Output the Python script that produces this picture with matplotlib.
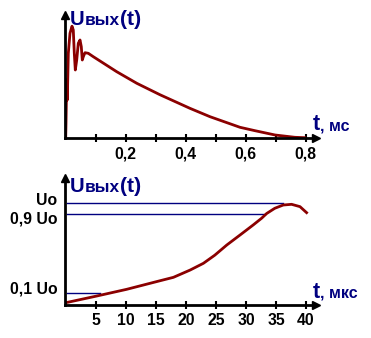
import matplotlib
matplotlib.use("Agg")
import matplotlib.pyplot as plt

# ---- data ----
t_top = [0, 0.001, 0.0033, 0.0053, 0.0087, 0.0143, 0.021, 0.0253, 0.0287, 0.032,
         0.0367, 0.042, 0.0477, 0.052, 0.0553, 0.0587, 0.0643, 0.0753, 0.092, 0.17,
         0.237, 0.314, 0.414, 0.481, 0.581, 0.631, 0.698, 0.764, 0.797]
u_top = [0, 0.144, 0.577, 0.377, 0.844, 1.044, 1.115, 1.077, 0.844, 0.677,
         0.777, 0.944, 0.977, 0.91, 0.777, 0.81, 0.85, 0.844, 0.81, 0.66,
         0.544, 0.43, 0.294, 0.21, 0.104, 0.07, 0.027, 0.004, 0.0]
top_ticks = [0.1, 0.2, 0.3, 0.4, 0.5, 0.6, 0.7, 0.8]
top_ticklabels = ["", "0,2", "", "0,4", "", "0,6", "", "0,8"]

t_bot = [0, 5.1, 10.1, 15.7, 17.9, 20.7, 22.9, 24.8, 26.8, 29.0, 31.2, 32.6,
         33.45, 34.8, 36.2, 37.6, 39.0, 40.1]
u_bot = [0.023, 0.088, 0.154, 0.239, 0.272, 0.344, 0.41, 0.49, 0.59, 0.688, 0.787,
         0.853, 0.90, 0.951, 0.983, 0.99, 0.967, 0.908]
bot_ticks = [5, 10, 15, 20, 25, 30, 35, 40]
bot_ticklabels = ["5", "10", "15", "20", "25", "30", "35", "40"]

levels = [1.0, 0.89, 0.115]
level_ends = [36.2, 33.2, 5.7]
level_labels = ["Uo", "0,9 Uo", "0,1 Uo"]
level_label_y = [1.03, 0.85, 0.16]

W, H = 371, 338
CURVE = "#8b0000"
NAVY = "#000080"
FONT = "Liberation Sans"

fig = plt.figure(figsize=(W / 100, H / 100), dpi=100)


def px_axes(left, right, top, bottom):
    return fig.add_axes([left / W, 1 - bottom / H, (right - left) / W, (bottom - top) / H])


def style(ax):
    for s in ("top", "right"):
        ax.spines[s].set_visible(False)
    for s in ("left", "bottom"):
        ax.spines[s].set_linewidth(2)
        ax.spines[s].set_color("black")
    ax.tick_params(axis="x", direction="inout", length=6, width=1.5, pad=3,
                   labelsize=11.3, colors="black")
    ax.tick_params(axis="y", left=False, labelleft=False)
    for lab in ax.get_xticklabels():
        lab.set_family(FONT)
        lab.set_fontweight("bold")
    ax.plot([0], [1], marker="^", ms=6, color="black", transform=ax.transAxes, clip_on=False)
    ax.plot([1], [0], marker=">", ms=6, color="black", transform=ax.transAxes, clip_on=False)
    ax.patch.set_alpha(0)


def ftext(x, y, s, **kw):
    fig.text(x / W, 1 - y / H, s, **kw)


# ---- top chart ----
ax1 = px_axes(64.5, 316, 15, 137.7)
ax1.plot(t_top, u_top, color=CURVE, lw=2, solid_joinstyle="round")
ax1.set_xlim(-0.004, (316 - 65.7) / 300)
ax1.set_ylim(0, (137.7 - 15) / 100)
ax1.set_xticks(top_ticks)
ax1.set_xticklabels(top_ticklabels)
style(ax1)

# ---- bottom chart ----
ax2 = px_axes(64.5, 316, 178, 305)
for lv, te in zip(levels, level_ends):
    ax2.plot([0.1, te], [lv, lv], color=NAVY, lw=1)
ax2.plot(t_bot, u_bot, color=CURVE, lw=2, solid_joinstyle="round")
ax2.set_xlim(-0.25, (316 - 66) / 6)
ax2.set_ylim(0, (305 - 178) / 101.7)
ax2.set_xticks(bot_ticks)
ax2.set_xticklabels(bot_ticklabels)
style(ax2)
for lab, ly in zip(level_labels, level_label_y):
    ax2.text(-0.028, ly, lab, transform=ax2.get_yaxis_transform(), ha="right", va="center",
             fontsize=11.3, family=FONT, fontweight="bold", color="black")

# ---- axis titles ----
for base in (25.3, 191.6):
    ftext(70.0, base, "U", fontsize=14.6, fontweight="bold", family=FONT,
          color=NAVY, va="baseline", ha="left")
    ftext(84.6, base, "вых", fontsize=12.4, fontweight="bold", family=FONT,
          color=NAVY, va="baseline", ha="left")
    ftext(119.6, base, "(t)", fontsize=15.3, fontweight="bold", family=FONT,
          color=NAVY, va="baseline", ha="left")
for base, unit in ((130.5, ", мс"), (297.5, ", мкс")):
    ftext(312.5, base, "t", fontsize=15.5, fontweight="bold", family=FONT,
          color=NAVY, va="baseline", ha="left")
    ftext(320.5, base, unit, fontsize=11.5, fontweight="bold", family=FONT,
          color=NAVY, va="baseline", ha="left")

fig.savefig("out.png", dpi=100)
